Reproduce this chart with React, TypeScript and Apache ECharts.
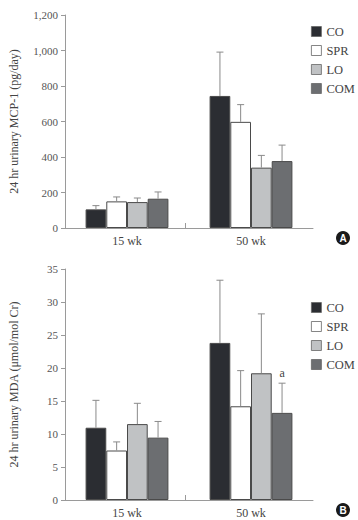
import React, { useEffect, useRef } from "react";
import * as echarts from "echarts";

const categories = ["15 wk", "50 wk"];
const groups = ["CO", "SPR", "LO", "COM"];

// Panel A: 24 hr urinary MCP-1 (pg/day)
const mcpValues = [
  [105, 744],
  [150, 598],
  [146, 340],
  [165, 377],
];
const mcpErrors = [
  [21, 247],
  [25, 97],
  [23, 69],
  [38, 90],
];
const mcpTicks = { min: 0, max: 1200, interval: 200 };

// Panel B: 24 hr urinary MDA (umol/mol Cr)
const mdaValues = [
  [10.95, 23.8],
  [7.5, 14.2],
  [11.5, 19.2],
  [9.45, 13.2],
];
const mdaErrors = [
  [4.15, 9.5],
  [1.3, 5.4],
  [3.15, 9.0],
  [2.45, 4.5],
];
const mdaTicks = { min: 0, max: 35, interval: 5 };
// annotation: [group index, category index, text]
const mdaAnnotations: [number, number, string][] = [[3, 1, "a"]];

const colors = ["#2b2d32", "#ffffff", "#c0c2c4", "#6c6e71"];
const FONT = "Liberation Serif";
const BAR_RATIO = 0.167;

const W = 358;
const H = 520;
const LEFT = 58;
const RIGHT = 45;
const GRID_A = { top: 15, height: 213 };
const GRID_B = { top: 269, height: 231 };

function buildSeries(
  gridIdx: number,
  values: number[][],
  errors: number[][],
  annotations: [number, number, string][]
) {
  const series: any[] = groups.map((g, gi) => ({
    type: "bar",
    name: g,
    xAxisIndex: gridIdx,
    yAxisIndex: gridIdx,
    data: values[gi],
    barWidth: BAR_RATIO * 100 + "%",
    barGap: "0%",
    itemStyle: {
      color: colors[gi],
      borderColor: "#4a4a4a",
      borderWidth: 1,
    },
    emphasis: { disabled: true },
  }));
  const errData: any[] = [];
  groups.forEach((g, gi) => {
    categories.forEach((c, ci) => {
      const ann = annotations.find((a) => a[0] === gi && a[1] === ci);
      errData.push([ci, gi, values[gi][ci], errors[gi][ci], ann ? ann[2] : ""]);
    });
  });
  series.push({
    type: "custom",
    xAxisIndex: gridIdx,
    yAxisIndex: gridIdx,
    data: errData,
    encode: { x: 0, y: 2 },
    z: 5,
    renderItem: (params: any, api: any) => {
      const ci = api.value(0);
      const gi = api.value(1);
      const v = api.value(2);
      const e = api.value(3);
      const band = api.size([1, 0])[0];
      const w = band * BAR_RATIO;
      const base = api.coord([ci, v]);
      const x = base[0] + (gi - 1.5) * w;
      const top = api.coord([ci, v + e])[1];
      const capHalf = 3.5;
      const lineStyle = { stroke: "#8a8a8a", lineWidth: 1 };
      const children: any[] = [
        { type: "line", shape: { x1: x, y1: base[1], x2: x, y2: top }, style: lineStyle },
        { type: "line", shape: { x1: x - capHalf, y1: top, x2: x + capHalf, y2: top }, style: lineStyle },
      ];
      const ann = errData[params.dataIndex][4];
      if (ann) {
        children.push({
          type: "text",
          style: {
            text: ann,
            x: x,
            y: top - 4,
            fill: "#444",
            font: `12px "${FONT}"`,
            align: "center",
            verticalAlign: "bottom",
          },
        });
      }
      return { type: "group", children };
    },
  });
  return series;
}

export default function App() {
  const ref = useRef<HTMLDivElement>(null);
  useEffect(() => {
    document.body.style.margin = "0";
    if (!ref.current) return;
    const chart = echarts.init(ref.current, null, { renderer: "svg" });
    const axisLine = { lineStyle: { color: "#9a9a9a", width: 1 } };
    const labelStyle = { color: "#555", fontFamily: FONT, fontSize: 11 };
    const yAxisBase = (name: string, t: any, fmt: (v: number) => string) => ({
      type: "value",
      min: t.min,
      max: t.max,
      interval: t.interval,
      name,
      nameLocation: "middle",
      nameGap: 45,
      nameTextStyle: { color: "#444", fontFamily: FONT, fontSize: 12 },
      axisLine: { show: true, ...axisLine },
      axisTick: { show: true, length: 4, lineStyle: { color: "#9a9a9a" } },
      axisLabel: { ...labelStyle, margin: 7, formatter: fmt },
      splitLine: { show: false },
    });
    const xAxisBase = (gi: number) => ({
      type: "category",
      gridIndex: gi,
      data: categories,
      axisLine: axisLine,
      axisTick: { show: false },
      axisLabel: { color: "#444", fontFamily: FONT, fontSize: 12, margin: 7 },
    });
    const legendBase = (top: number) => ({
      orient: "vertical",
      left: 311,
      top,
      padding: 0,
      itemWidth: 10,
      itemHeight: 10,
      itemGap: 6,
      icon: "rect",
      data: groups,
      selectedMode: false,
      itemStyle: { borderColor: "#666", borderWidth: 0.8 },
      textStyle: { color: "#444", fontFamily: FONT, fontSize: 12.5, width: 40, overflow: "none" },
    });
    const midTick = (g: { top: number; height: number }) => ({
      type: "line",
      shape: {
        x1: LEFT + (W - LEFT - RIGHT) / 2,
        y1: g.top + g.height - 5,
        x2: LEFT + (W - LEFT - RIGHT) / 2,
        y2: g.top + g.height,
      },
      style: { stroke: "#9a9a9a", lineWidth: 1 },
    });
    const badge = (letter: string, cy: number) => ({
      type: "group",
      children: [
        { type: "circle", shape: { cx: 343, cy, r: 7 }, style: { fill: "#1a1a1a" } },
        {
          type: "text",
          style: {
            text: letter,
            x: 343,
            y: cy + 0.5,
            fill: "#fff",
            font: "bold 10px Arial, 'Liberation Sans'",
            align: "center",
            verticalAlign: "middle",
          },
        },
      ],
    });
    chart.setOption({
      animation: false,
      backgroundColor: "#ffffff",
      grid: [
        { left: LEFT, right: RIGHT, top: GRID_A.top, height: GRID_A.height },
        { left: LEFT, right: RIGHT, top: GRID_B.top, height: GRID_B.height },
      ],
      xAxis: [xAxisBase(0), xAxisBase(1)],
      yAxis: [
        {
          gridIndex: 0,
          ...yAxisBase("24 hr urinary MCP-1 (pg/day)", mcpTicks, (v: number) => v.toLocaleString("en-US")),
        },
        {
          gridIndex: 1,
          ...yAxisBase("24 hr urinary MDA (\u03bcmol/mol Cr)", mdaTicks, (v: number) => String(v)),
        },
      ],
      legend: [legendBase(25), legendBase(301)],
      series: [
        ...buildSeries(0, mcpValues, mcpErrors, []),
        ...buildSeries(1, mdaValues, mdaErrors, mdaAnnotations),
      ],
      graphic: [midTick(GRID_A), midTick(GRID_B), badge("A", 238), badge("B", 510)],
    });
    return () => chart.dispose();
  }, []);
  return <div ref={ref} style={{ width: W, height: H }} />;
}
